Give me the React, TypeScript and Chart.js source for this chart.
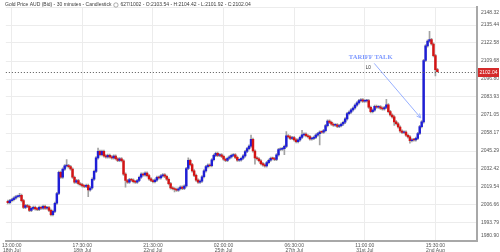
import React, { useEffect, useRef } from 'react';
import { Chart, registerables } from 'chart.js';

Chart.register(...registerables);

// ---- Data (30-minute candles, closes) ----
const closes: number[] = [
  2008.40, 2009.80, 2010.49, 2011.54, 2012.58, 2012.93, 2013.62, 2009.80, 2004.92, 2006.32,
  2005.62, 2002.84, 2004.23, 2004.92, 2003.88, 2003.53, 2004.92, 2004.44, 2005.62, 2004.44,
  2004.78, 2002.84, 1999.70, 2002.14, 2007.92, 2014.88, 2029.98, 2026.50, 2032.28, 2034.65,
  2034.86, 2034.16, 2032.42, 2026.50, 2023.02, 2024.21, 2021.84, 2021.28, 2020.24, 2019.89,
  2020.73, 2017.45, 2018.85, 2025.11, 2030.68, 2040.42, 2045.09, 2042.72, 2045.09, 2041.82,
  2041.12, 2042.16, 2041.12, 2040.42, 2041.61, 2039.73, 2038.54, 2039.73, 2038.34, 2028.80,
  2024.21, 2023.02, 2024.76, 2024.41, 2023.37, 2023.02, 2024.21, 2026.50, 2028.80, 2028.24,
  2029.50, 2027.69, 2025.32, 2024.21, 2023.37, 2024.41, 2026.50, 2026.01, 2027.55, 2028.24,
  2027.20, 2025.11, 2021.98, 2018.85, 2018.29, 2017.80, 2017.24, 2018.29, 2019.54, 2018.50,
  2020.24, 2032.77, 2038.68, 2035.55, 2031.03, 2027.89, 2024.41, 2023.02, 2023.72, 2026.85,
  2031.03, 2034.16, 2035.20, 2034.72, 2039.03, 2042.16, 2043.56, 2042.16, 2042.51, 2041.47,
  2039.38, 2038.48, 2040.08, 2041.12, 2042.16, 2042.51, 2040.77, 2038.68, 2038.83, 2040.08,
  2041.82, 2044.95, 2047.04, 2048.78, 2053.65, 2045.30, 2040.42, 2039.73, 2038.34, 2036.25,
  2035.34, 2034.65, 2036.94, 2038.68, 2040.08, 2039.87, 2039.24, 2042.51, 2046.34, 2046.69,
  2047.04, 2048.57, 2056.09, 2055.39, 2054.35, 2054.83, 2053.30, 2052.05, 2053.30, 2055.04,
  2056.78, 2057.48, 2056.22, 2055.60, 2054.00, 2054.35, 2055.04, 2056.64, 2057.69, 2058.80,
  2058.73, 2059.92, 2063.40, 2066.74, 2065.76, 2064.44, 2063.74, 2064.02, 2062.84, 2063.40,
  2064.58, 2065.83, 2068.27, 2072.03, 2073.14, 2074.67, 2076.06, 2078.15, 2079.75, 2081.29,
  2081.84, 2081.01, 2081.15, 2081.36, 2076.62, 2073.49, 2074.53, 2077.32, 2076.62, 2076.97,
  2075.93, 2075.37, 2076.41, 2078.36, 2073.49, 2071.05, 2069.66, 2066.18, 2064.79, 2062.49,
  2059.57, 2058.52, 2058.87, 2056.57, 2055.39, 2052.61, 2053.30, 2053.16, 2054.35, 2057.83,
  2062.70, 2066.18, 2110.03, 2120.48, 2123.96, 2125.00, 2121.87, 2113.51, 2103.54, 2102.04,
];
const firstOpen = 2009.2;

// notable wick extremes: [candle index, price]
const wickHighs: [number, number][] = [
  [6, 2015.0], [30, 2039.2], [46, 2047.4], [92, 2040.4], [124, 2056.6],
  [142, 2059.2], [150, 2060.1], [193, 2082.2], [215, 2130.9], [219, 2104.42],
];
const wickLows: [number, number][] = [
  [22, 1998.8], [41, 2012.6], [60, 2019.5], [85, 2016.1], [126, 2035.8],
  [141, 2042.7], [159, 2049.7], [197, 2063.6], [205, 2050.9], [218, 2099.0], [219, 2101.92],
];

const yTicks = [1980.90, 1993.79, 2006.66, 2019.54, 2032.42, 2045.29, 2058.17, 2071.05, 2083.93, 2096.80, 2109.68, 2122.58, 2135.44, 2148.32];
const xTickIndex = [2, 38, 74, 110, 146, 182, 218];
const xTickTimes = ['13:00:00', '17:30:00', '21:30:00', '02:00:00', '06:30:00', '11:00:00', '15:30:00'];
const xTickDates = ['18th Jul', '18th Jul', '22nd Jul', '25th Jul', '27th Jul', '31st Jul', '2nd Aug'];

const titleText = 'Gold Price AUD (Bid) - 30 minutes - Candlestick';
const ohlcText = '627/1002 - O:2103.54 - H:2104.42 - L:2101.92 - C:2102.04';
const lastPrice = 2102.04;

const noteText = 'TARIFF TALK';
const notePos = [185, 2112.6];
const noteLabel = 'L0';
const noteLabelPos = [183.8, 2105.2];
const arrowFrom = [186.8, 2108.0];
const arrowTo = [210.5, 2069.0];

const UP = '#1f1fd6';
const DOWN = '#d41414';
const WICK = '#a3a3a3';
const FONT = "'Liberation Sans', Arial, sans-serif";

export default function App() {
  const ref = useRef<HTMLCanvasElement | null>(null);

  useEffect(() => {
    document.body.style.margin = '0';
    const canvas = ref.current!;
    const opens = closes.map((c, i) => (i === 0 ? firstOpen : closes[i - 1]));
    const hiMap = new Map(wickHighs);
    const loMap = new Map(wickLows);
    const bodies = closes.map((c, i) => ({ x: i, y: [opens[i], c] }));
    const wicks = closes.map((c, i) => {
      const hi = hiMap.has(i) ? hiMap.get(i)! : Math.max(opens[i], c) + 0.9;
      const lo = loMap.has(i) ? loMap.get(i)! : Math.min(opens[i], c) - 0.9;
      return { x: i, y: [lo, hi] };
    });

    const decor = {
      id: 'decor',
      afterDatasetsDraw(chart: any) {
        const { ctx, chartArea, scales } = chart;
        const xs = scales.x, ys = scales.y;
        ctx.save();
        // dotted current price line
        const py = Math.round(ys.getPixelForValue(lastPrice)) + 0.5;
        ctx.strokeStyle = '#555';
        ctx.lineWidth = 1;
        ctx.setLineDash([1, 2]);
        ctx.beginPath();
        ctx.moveTo(chartArea.left, py);
        ctx.lineTo(chartArea.right, py);
        ctx.stroke();
        ctx.setLineDash([]);
        // annotation arrow
        const fx = xs.getPixelForValue(arrowFrom[0]), fy = ys.getPixelForValue(arrowFrom[1]);
        const tx = xs.getPixelForValue(arrowTo[0]), ty = ys.getPixelForValue(arrowTo[1]);
        ctx.strokeStyle = '#98b0ff';
        ctx.lineWidth = 1;
        ctx.beginPath();
        ctx.moveTo(fx, fy);
        ctx.lineTo(tx, ty);
        const ang = Math.atan2(ty - fy, tx - fx);
        ctx.moveTo(tx, ty);
        ctx.lineTo(tx - 4.5 * Math.cos(ang - 0.45), ty - 4.5 * Math.sin(ang - 0.45));
        ctx.moveTo(tx, ty);
        ctx.lineTo(tx - 4.5 * Math.cos(ang + 0.45), ty - 4.5 * Math.sin(ang + 0.45));
        ctx.stroke();
        // annotation text
        ctx.fillStyle = '#7d98ff';
        ctx.font = "bold 6.6px 'Liberation Serif', 'Times New Roman', serif";
        ctx.textAlign = 'center';
        ctx.textBaseline = 'middle';
        ctx.fillText(noteText, xs.getPixelForValue(notePos[0]), ys.getPixelForValue(notePos[1]));
        ctx.fillStyle = '#333';
        ctx.font = `4.6px ${FONT}`;
        ctx.fillText(noteLabel, xs.getPixelForValue(noteLabelPos[0]), ys.getPixelForValue(noteLabelPos[1]));
        ctx.restore();
      },
      afterDraw(chart: any) {
        const { ctx, chartArea, scales } = chart;
        const ys = scales.y;
        ctx.save();
        // title
        ctx.font = `5px ${FONT}`;
        ctx.fillStyle = '#3a3a3a';
        ctx.textAlign = 'left';
        ctx.textBaseline = 'middle';
        const tx = 5, ty = 5;
        ctx.fillText(titleText, tx, ty);
        let w = ctx.measureText(titleText).width;
        ctx.strokeStyle = '#777';
        ctx.lineWidth = 0.6;
        ctx.beginPath();
        ctx.arc(tx + w + 4.5, ty, 2.2, 0, Math.PI * 2);
        ctx.stroke();
        ctx.fillText(ohlcText, tx + w + 9, ty);
        // clamped boundary y labels
        ctx.font = `5px ${FONT}`;
        ctx.fillStyle = '#555';
        ctx.fillText(yTicks[yTicks.length - 1].toFixed(2), chartArea.right + 4, chartArea.top + 6);
        ctx.fillText(yTicks[0].toFixed(2), chartArea.right + 4, chartArea.bottom - 5);
        // current price box
        const py = Math.round(ys.getPixelForValue(lastPrice)) + 0.5;
        ctx.fillStyle = '#d42a2a';
        ctx.fillRect(chartArea.right + 1, py - 4.5, 21, 9);
        ctx.fillStyle = '#fff';
        ctx.textAlign = 'center';
        ctx.fillText(lastPrice.toFixed(2), chartArea.right + 11.5, py);
        ctx.restore();
      },
    };

    const chart = new Chart(canvas, {
      type: 'bar',
      data: {
        datasets: [
          {
            data: bodies as any,
            order: 0,
            grouped: false,
            barThickness: 1.8,
            minBarLength: 0.8,
            backgroundColor: (c: any) => {
              const r = c.raw;
              return r && r.y[1] >= r.y[0] ? UP : DOWN;
            },
            borderWidth: 0,
          } as any,
          {
            data: wicks as any,
            order: 1,
            grouped: false,
            barThickness: 1,
            backgroundColor: WICK,
            borderWidth: 0,
          } as any,
        ],
      },
      plugins: [decor],
      options: {
        animation: false,
        responsive: false,
        devicePixelRatio: 1,
        layout: { padding: 0 },
        plugins: { legend: { display: false }, tooltip: { enabled: false }, title: { display: false } },
        scales: {
          x: {
            type: 'linear',
            min: -1,
            max: 239.2,
            offset: false,
            afterBuildTicks: (s: any) => { s.ticks = xTickIndex.map((v) => ({ value: v })); },
            afterFit: (s: any) => { s.height = 11; },
            grid: { color: '#ececec', drawTicks: false, offset: false },
            border: { display: true, color: '#a8a8a8', width: 2 },
            ticks: {
              padding: 2,
              autoSkip: false,
              maxRotation: 0,
              color: '#555',
              font: { size: 5, family: FONT, lineHeight: 1.05 },
              callback: (_v: any, i: number) => [xTickTimes[i], xTickDates[i]],
            },
          },
          y: {
            type: 'linear',
            position: 'right',
            min: yTicks[0],
            max: yTicks[yTicks.length - 1],
            afterBuildTicks: (s: any) => { s.ticks = yTicks.map((v) => ({ value: v })); },
            afterFit: (s: any) => { s.width = 23; },
            grid: { color: '#ececec', drawTicks: false },
            border: { display: true, color: '#a8a8a8', width: 2 },
            ticks: {
              padding: 4,
              autoSkip: false,
              color: '#555',
              font: { size: 5, family: FONT },
              callback: (v: any, i: number) => (i === 0 || i === yTicks.length - 1 ? '' : Number(v).toFixed(2)),
            },
          },
        },
      } as any,
    });
    return () => chart.destroy();
  }, []);

  return (
    <div style={{ position: 'absolute', left: 0, top: 0, width: 500, height: 252, background: '#fff' }}>
      <canvas ref={ref} width={500} height={252} style={{ width: 500, height: 252 }} />
    </div>
  );
}
